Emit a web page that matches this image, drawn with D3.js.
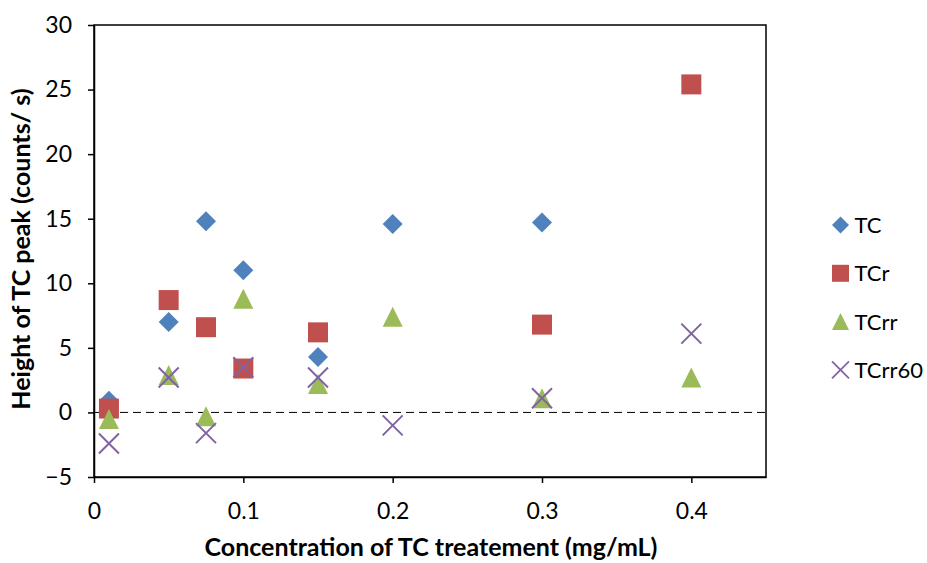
<!DOCTYPE html>
<html>
<head>
    <meta charset="utf-8" />
    <script src="https://d3js.org/d3.v7.min.js"></script>
    <style>
        body { margin: 0; background: #fff; }
        text { font-family: Lato, "Open Sans", sans-serif; fill: #000; }
    </style>
</head>
<body>
    <script>
        // data
        const concentrations = [0.01, 0.05, 0.075, 0.1, 0.15, 0.2, 0.3, 0.4];
        const tcValues      = [0.9, 7.0, 14.8, 11.0, 4.3, 14.6, 14.7, null];
        const tcrValues     = [0.3, 8.7, 6.6, 3.4, 6.2, null, 6.8, 25.4];
        const tcrrValues    = [-0.5, 2.9, -0.3, 8.8, 2.2, 7.4, 1.1, 2.7];
        const tcrr60Values  = [-2.4, 2.7, -1.6, 3.5, 2.7, -1.0, 1.1, 6.1];
        const xTicks = [0, 0.1, 0.2, 0.3, 0.4];
        const yTicks = [-5, 0, 5, 10, 15, 20, 25, 30];

        const seriesList = [
            { name: 'TC', values: tcValues, color: '#4F81BD', shape: 'diamond' },
            { name: 'TCr', values: tcrValues, color: '#C0504D', shape: 'square' },
            { name: 'TCrr', values: tcrrValues, color: '#9BBB59', shape: 'triangle' },
            { name: 'TCrr60', values: tcrr60Values, color: '#8064A2', shape: 'x' }
        ];

        // dimensions
        const margin = { top: 25, right: 161, bottom: 86, left: 94 };
        const width = 927 - margin.left - margin.right;
        const height = 563 - margin.top - margin.bottom;

        const root = d3.select('body')
            .append('svg')
            .attr('width', 927)
            .attr('height', 563);

        const svg = root.append('g')
            .attr('transform', `translate(${margin.left},${margin.top})`);

        const x = d3.scaleLinear().domain([0, 0.45]).range([0, width]);
        const y = d3.scaleLinear().domain([-5, 30]).range([height, 0]);

        // plot frame
        svg.append('rect')
            .attr('x', 0).attr('y', 0)
            .attr('width', width).attr('height', height)
            .attr('fill', 'none')
            .attr('stroke', '#000')
            .attr('stroke-width', 1.5);

        // zero line
        svg.append('line')
            .attr('x1', 0).attr('x2', width)
            .attr('y1', y(0)).attr('y2', y(0))
            .attr('stroke', '#000')
            .attr('stroke-width', 1)
            .attr('stroke-dasharray', '8,5');

        // axes
        const xAxis = svg.append('g')
            .attr('transform', `translate(0,${height})`)
            .call(d3.axisBottom(x).tickValues(xTicks).tickSize(6).tickSizeOuter(0).tickPadding(20)
                .tickFormat(d => d === 0 ? '0' : String(d)));
        const yAxis = svg.append('g')
            .call(d3.axisLeft(y).tickValues(yTicks).tickSize(6).tickSizeOuter(0).tickPadding(16));

        [xAxis, yAxis].forEach(a => {
            a.select('.domain').attr('stroke', '#000').attr('stroke-width', 1.5);
            a.selectAll('.tick line').attr('stroke', '#000').attr('stroke-width', 1.5);
            a.selectAll('.tick text')
                .style('font-family', 'Lato, "Open Sans", sans-serif')
                .style('font-size', '23px')
                .attr('fill', '#000');
        });

        // marker shapes
        const s = 10;
        function markerPath(shape) {
            if (shape === 'diamond') return `M0,${-s}L${s},0L0,${s}L${-s},0Z`;
            if (shape === 'square') return `M${-s},${-s}H${s}V${s}H${-s}Z`;
            if (shape === 'triangle') return `M0,${-s}L${s},${s}L${-s},${s}Z`;
            return `M${-s},${-s}L${s},${s}M${s},${-s}L${-s},${s}`;
        }

        function drawMarker(g, d) {
            if (d.shape === 'x') {
                g.append('path').attr('d', markerPath('x'))
                    .attr('fill', 'none').attr('stroke', d.color).attr('stroke-width', 2);
            } else {
                g.append('path').attr('d', markerPath(d.shape))
                    .attr('fill', d.color);
            }
        }

        seriesList.forEach(ser => {
            const pts = concentrations.map((c, i) => ({ c, v: ser.values[i] }))
                .filter(p => p.v !== null);
            pts.forEach(p => {
                const g = svg.append('g')
                    .attr('transform', `translate(${x(p.c)},${y(p.v)})`);
                drawMarker(g, ser);
            });
        });

        // legend
        const legend = root.append('g').attr('transform', 'translate(840.5,225)');
        seriesList.forEach((ser, i) => {
            const row = legend.append('g').attr('transform', `translate(0,${i * 48.3})`);
            drawMarker(row.append('g').attr('transform', 'scale(0.85)'), ser);
            row.append('text')
                .attr('x', 14)
                .attr('y', 8)
                .style('font-size', '22px')
                .text(ser.name);
        });

        // axis titles
        root.append('text')
            .attr('x', 431)
            .attr('y', 556)
            .attr('text-anchor', 'middle')
            .style('font-size', '25px')
            .style('font-weight', 'bold')
            .text('Concentration of TC treatement (mg/mL)');

        root.append('text')
            .attr('transform', `translate(30,${margin.top + height / 2 - 2}) rotate(-90)`)
            .attr('text-anchor', 'middle')
            .style('font-size', '25px')
            .style('font-weight', 'bold')
            .text('Height of TC peak (counts/ s)');
    </script>
</body>
</html>
